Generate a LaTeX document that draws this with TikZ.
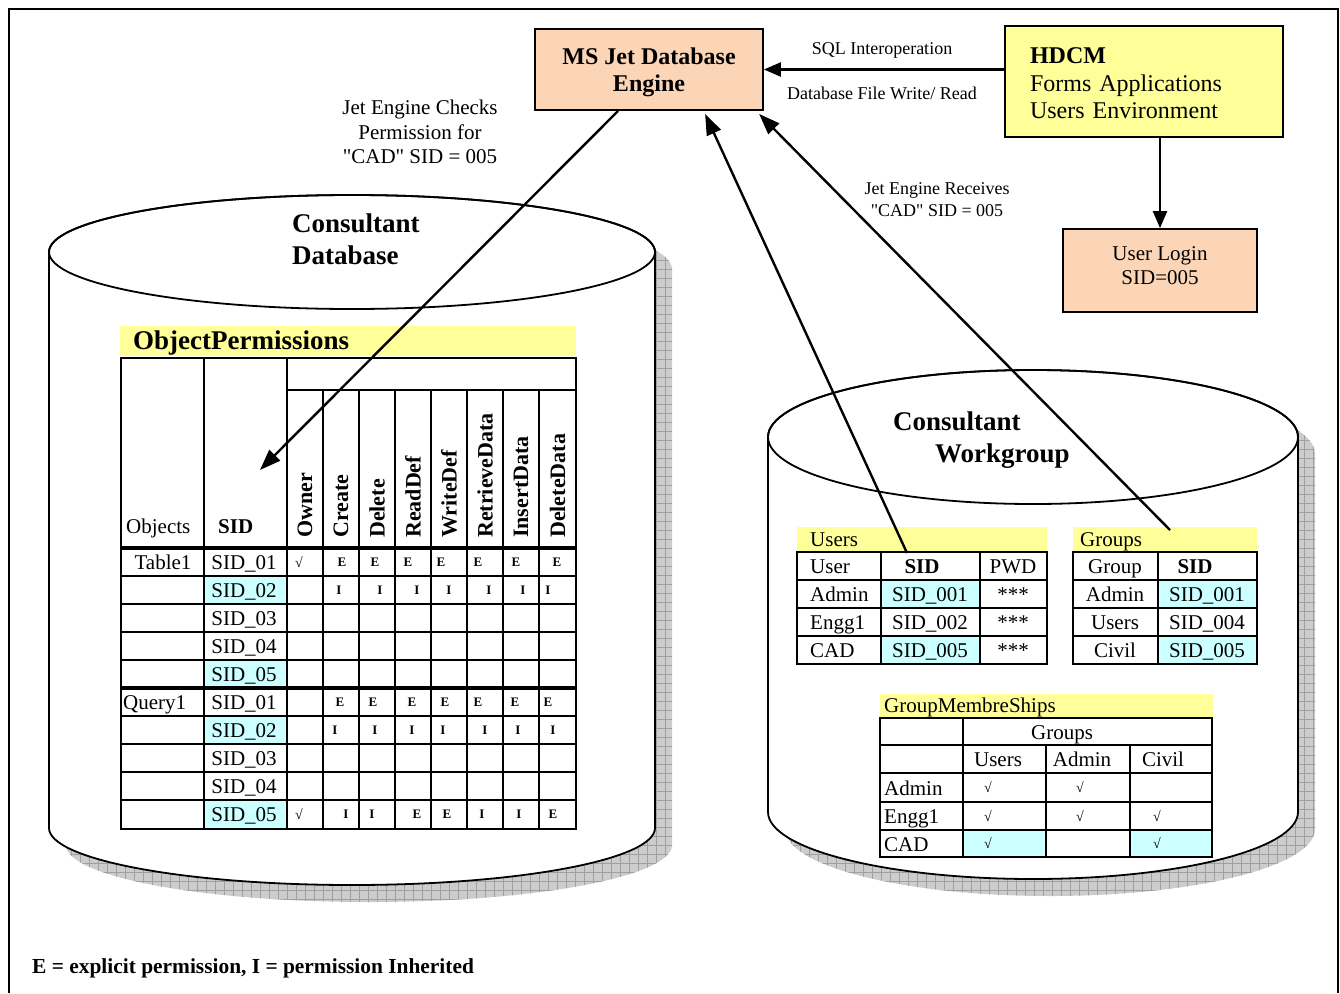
\documentclass[tikz,border=0pt]{standalone}
\usepackage{fontspec}
\setmainfont{Liberation Serif}
\newfontfamily\qfont{Liberation Serif}
\usetikzlibrary{arrows.meta,calc}
\definecolor{peach}{RGB}{251,213,181}
\definecolor{lyel}{RGB}{255,255,153}
\definecolor{lcyan}{RGB}{204,255,255}
\newcommand\myfs[2]{\fontsize{#1}{#2}\selectfont}
\begin{document}
\begin{tikzpicture}[x=1pt,y=-1pt,
  frame/.style={line width=2pt},
  cyl/.style={draw, line width=1.8pt, fill=white},
  pbox/.style={draw, line width=1.8pt, fill=peach, inner sep=0pt},
  ybox/.style={draw, line width=1.8pt, fill=lyel},
  tl/.style={line width=1.6pt},
  tk/.style={line width=3.2pt},
  tx/.style={anchor=base, inner sep=0pt, font={\myfs{21}{24}}},
  txw/.style={anchor=base west, inner sep=0pt, font={\myfs{21}{24}}},
  txb/.style={anchor=base, inner sep=0pt, font={\myfs{21}{24}\bfseries}},
  eis/.style={anchor=base, inner sep=0pt, font={\myfs{13}{15}\bfseries}},
  chk/.style={anchor=base, inner sep=0pt, font={\myfs{14}{16}}},
  colh/.style={rotate=90, anchor=west, inner sep=0pt, font={\myfs{22}{24}\bfseries}},
  arr/.style={line width=2.4pt, -{Triangle[length=21pt,width=15pt]}},
  arrs/.style={line width=2.4pt, -{Triangle[length=17pt,width=14pt]}},
  lbl/.style={inner sep=0pt, align=center}
]
\useasboundingbox (0,0) rectangle (1340,993);
% outer frame
\draw[frame] (9,993) -- (9,9) -- (1338,9) -- (1338,993);

% ---------- shadows ----------
\begin{scope}[shift={(17,17)}]
  \begin{scope}
    \clip (49,252) -- (49,828) arc[start angle=180,end angle=0,x radius=303,y radius=57]
      -- (655,252) arc[start angle=0,end angle=-180,x radius=303,y radius=57] -- cycle;
    \fill[gray!40] (0,150) rectangle (700,950);
    \draw[gray!75, line width=0.5pt, step=9pt] (0,150) grid (700,950);
  \end{scope}
  \begin{scope}
    \clip (768,437) -- (768,812) arc[start angle=180,end angle=0,x radius=265,y radius=67]
      -- (1298,437) arc[start angle=0,end angle=-180,x radius=265,y radius=67] -- cycle;
    \fill[gray!40] (700,300) rectangle (1340,950);
    \draw[gray!75, line width=0.5pt, step=9pt] (700,300) grid (1340,950);
  \end{scope}
\end{scope}

% ---------- cylinders ----------
\path[cyl] (49,252) -- (49,828) arc[start angle=180,end angle=0,x radius=303,y radius=57]
  -- (655,252) arc[start angle=0,end angle=-180,x radius=303,y radius=57] -- cycle;
\draw[line width=1.8pt] (352,252) ellipse [x radius=303, y radius=57];
\node[anchor=base west, inner sep=0pt, font={\myfs{27}{32}\bfseries}] (cdb1) at (292,232) {Consultant};
\node[anchor=base west, inner sep=0pt, font={\myfs{27}{32}\bfseries}] (cdb2) at (292,264) {Database};

\path[cyl] (768,437) -- (768,812) arc[start angle=180,end angle=0,x radius=265,y radius=67]
  -- (1298,437) arc[start angle=0,end angle=-180,x radius=265,y radius=67] -- cycle;
\draw[line width=1.8pt] (1033,437) ellipse [x radius=265, y radius=67];
\node[anchor=base west, inner sep=0pt, font={\myfs{27}{32}\bfseries}] (cwg1) at (893,430) {Consultant};
\node[anchor=base west, inner sep=0pt, font={\myfs{27}{32}\bfseries}] (cwg2) at (935,462) {Workgroup};

% ---------- top boxes ----------
\node[pbox, minimum width=228, minimum height=81, align=center, font={\myfs{24}{27}\bfseries}] (jet) at (649,69.5) {\rule{0pt}{22pt}MS Jet Database\\Engine};
\node[ybox, minimum width=278, minimum height=111, align=left, text width=228, inner xsep=25pt, font={\myfs{24}{27.5}}] (hdcm) at (1144,81.5) {\rule{0pt}{20pt}\textbf{HDCM}\\Forms Applications\\Users Environment};
\node[pbox, minimum width=194, minimum height=83, align=center, font={\myfs{21}{24}}] (login) at (1160,270.5) {User Login\\SID=005\rule[-10pt]{0pt}{10pt}};

\node[lbl, font={\myfs{18}{20}}] (sql) at (882,50) {SQL Interoperation};
\node[lbl, font={\myfs{18}{20}}] (dbf) at (882,93) {Database File Write/ Read};
\node[lbl, font={\qfont\myfs{21}{24.5}}] (checks) at (420,132) {Jet Engine Checks\\Permission for\\"CAD" SID = 005};
\node[lbl, font={\qfont\myfs{18}{22}}] (recv) at (937,200) {Jet Engine Receives\\"CAD" SID = 005};

% ---------- ObjectPermissions ----------
\fill[lyel] (120,326) rectangle (576,356);
\node[anchor=base west, inner sep=0pt, font={\myfs{27}{30}\bfseries}] (optitle) at (133,349) {ObjectPermissions};
\foreach \y in {576,660,716,800} \fill[lcyan] (204,\y) rectangle (287,\y+28);
\draw[tl] (121,358) rectangle (576,829);
\draw[tl] (204,358) -- (204,829) (287,358) -- (287,829) (287,390) -- (576,390);
\foreach \x in {323,359,395,431,467,503,539} \draw[tl] (\x,390) -- (\x,829);
\foreach \y in {576,604,632,660,716,744,772,800} \draw[tl] (121,\y) -- (576,\y);
\draw[tk] (121,548) -- (576,548) (121,688) -- (576,688);

\node[txw] (objh) at (126,533) {Objects};
\node[txw, font={\myfs{21}{24}\bfseries}] (sidh) at (218,533) {SID};
\foreach \x/\t [count=\k] in {305/Owner,341/Create,377/Delete,413/ReadDef,449/WriteDef,485/RetrieveData,521/InsertData,557.5/DeleteData}
  \node[colh] (oph\k) at (\x,538) {\t};
\node[tx] (tab1) at (163,569) {Table1};
\node[txw] (qry1) at (123,709) {Query1};
\foreach \r/\t in {1/01,2/02,3/03,4/04,5/05,6/01,7/02,8/03,9/04,10/05}
  \node[tx] (sid\r) at (244,{541+28*\r}) {SID\_\t};
\foreach \x/\l [count=\k] in {342/E,375/E,408/E,441/E,478/E,516/E,557/E}
  \node[eis] (ra\k) at (\x,566.5) {\l};
\foreach \x/\l [count=\k] in {339/I,380/I,417/I,449/I,489/I,523/I,548/I}
  \node[eis] (rb\k) at (\x,594.5) {\l};
\foreach \x/\l [count=\k] in {340/E,373/E,412/E,445/E,478/E,515/E,548/E}
  \node[eis] (rc\k) at (\x,706.5) {\l};
\foreach \x/\l [count=\k] in {335/I,375/I,412/I,443/I,485/I,518/I,553/I}
  \node[eis] (rd\k) at (\x,734.5) {\l};
\foreach \x/\l [count=\k] in {346/I,372/I,417/E,447/E,482/I,519/I,553/E}
  \node[eis] (re\k) at (\x,818.5) {\l};
\node[chk] (own1) at (299,567) {√};
\node[chk] (own2) at (299,819) {√};

% ---------- Users ----------
\fill[lyel] (797,527) rectangle (1047,552);
\node[txw] (utitle) at (810,546) {Users};
\fill[lcyan] (881,580) rectangle (980,608);
\fill[lcyan] (881,636) rectangle (980,664);
\draw[tl] (797,552) rectangle (1047,664);
\draw[tl] (881,552) -- (881,664) (980,552) -- (980,664);
\foreach \y in {580,608,636} \draw[tl] (797,\y) -- (1047,\y);
\node[txw] (uh1) at (810,573) {User};
\node[txb] (usid) at (922,573) {SID};
\node[tx] (uh3) at (1013,573) {PWD};
\node[txw] (u1) at (810,601) {Admin};
\node[tx] (u1s) at (930,601) {SID\_001};
\node[tx] (u1p) at (1013,601) {***};
\node[txw] (u2) at (810,629) {Engg1};
\node[tx] (u2s) at (930,629) {SID\_002};
\node[tx] (u2p) at (1013,629) {***};
\node[txw] (u3) at (810,657) {CAD};
\node[tx] (u3s) at (930,657) {SID\_005};
\node[tx] (u3p) at (1013,657) {***};

% ---------- Groups ----------
\fill[lyel] (1073,527) rectangle (1257,552);
\node[txw] (gtitle) at (1080,546) {Groups};
\fill[lcyan] (1158,580) rectangle (1257,608);
\fill[lcyan] (1158,636) rectangle (1257,664);
\draw[tl] (1073,552) rectangle (1257,664);
\draw[tl] (1158,552) -- (1158,664);
\foreach \y in {580,608,636} \draw[tl] (1073,\y) -- (1257,\y);
\node[tx] (gh1) at (1115,573) {Group};
\node[txb] (gsid) at (1195,573) {SID};
\node[tx] (g1) at (1115,601) {Admin};
\node[tx] (g1s) at (1207,601) {SID\_001};
\node[tx] (g2) at (1115,629) {Users};
\node[tx] (g2s) at (1207,629) {SID\_004};
\node[tx] (g3) at (1115,657) {Civil};
\node[tx] (g3s) at (1207,657) {SID\_005};

% ---------- GroupMembreShips ----------
\fill[lyel] (880,694) rectangle (1213,717);
\node[txw] (gmtitle) at (884,712) {GroupMembreShips};
\fill[lcyan] (963,830) rectangle (1046,857);
\fill[lcyan] (1130,830) rectangle (1212,857);
\draw[tl] (880,718) rectangle (1212,857);
\draw[tl] (963,718) -- (963,857) (1046,745) -- (1046,857) (1130,745) -- (1130,857);
\foreach \y in {745,773,802,830} \draw[tl] (880,\y) -- (1212,\y);
\node[tx] (gmg) at (1062,739) {Groups};
\node[tx] (gmu) at (998,766) {Users};
\node[tx] (gma) at (1082,766) {Admin};
\node[tx] (gmc) at (1163,766) {Civil};
\node[txw] (gm1) at (884,795) {Admin};
\node[txw] (gm2) at (884,823) {Engg1};
\node[txw] (gm3) at (884,851) {CAD};
\node[chk] (c11) at (988,792) {√};
\node[chk] (c12) at (1080,792) {√};
\node[chk] (c21) at (988,821) {√};
\node[chk] (c22) at (1080,821) {√};
\node[chk] (c23) at (1157,821) {√};
\node[chk] (c31) at (988,848) {√};
\node[chk] (c33) at (1157,848) {√};

% ---------- legend ----------
\node[anchor=base west, inner sep=0pt, font={\myfs{21.4}{24}\bfseries}] (legend) at (32,973) {E = explicit permission, I = permission Inherited};

% ---------- connectors ----------
\coordinate (sidtip) at (260,470);
\coordinate (ustart) at (907,553);
\coordinate (gstart) at (1170,530);
\draw[arrs] (hdcm.west |- jet.east) -- (jet.east);
\draw[arrs] (login.north |- hdcm.south) -- (login.north);
\draw[arr] ([xshift=84pt]jet.south west) -- (sidtip);
\draw[arr] (ustart) -- ([xshift=171pt,yshift=-3pt]jet.south west);
\draw[arr] (gstart) -- ([xshift=225pt,yshift=-3pt]jet.south west);
\end{tikzpicture}
\end{document}
